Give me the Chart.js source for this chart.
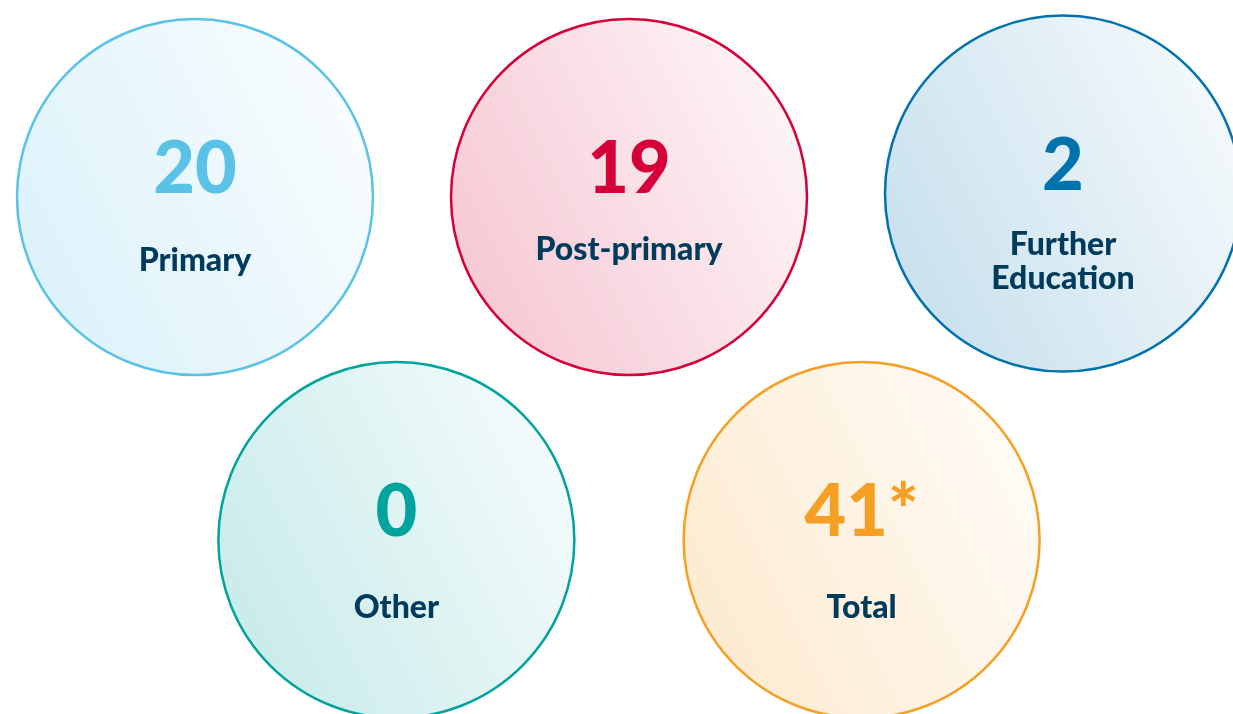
<!DOCTYPE html>
<html>
<head>
<meta charset="utf-8">
<script src="https://cdn.jsdelivr.net/npm/chart.js@4"></script>
<style>
  html, body { margin: 0; padding: 0; background: #ffffff; }
  #wrap { position: relative; width: 1233px; height: 714px; }
</style>
</head>
<body>
<div id="wrap"><canvas id="chart"></canvas></div>
<script>
// data
const categories = ['Primary', 'Post-primary', ['Further', 'Education'], 'Other', 'Total'];
const values = [20, 19, 2, 0, 41];
const notes = ['', '', '', '', '*'];

// look
const colors = ['#5bc2e7', '#d50037', '#0072ae', '#00a39d', '#f5a025'];
const labelColor = '#003b5c';
// slot for each circle: three on the top row, two below
const slotX = [-1, 0, 1, -0.536, 0.536];
const slotY = [0, 0, -0.01, 1, 1];
const labelShift = [64, 53, 51, 68, 68];

function hexAlpha(hex, a) {
    const n = parseInt(hex.slice(1), 16);
    return 'rgba(' + (n >> 16) + ',' + ((n >> 8) & 255) + ',' + (n & 255) + ',' + a + ')';
}

const R = 178;

const ctx = document.getElementById('chart');

const textPlugin = {
    id: 'circleText',
    afterDatasetsDraw(chart) {
        const c = chart.ctx;
        const meta = chart.getDatasetMeta(0);
        meta.data.forEach(function (el, i) {
            c.save();
            c.textAlign = 'center';
            c.textBaseline = 'middle';
            c.fillStyle = colors[i];
            c.font = '900 72px "Source Sans Pro", Lato, sans-serif';
            c.fillText(values[i] + notes[i], el.x, el.y - 27);

            c.fillStyle = labelColor;
            c.font = '900 32px "Source Sans Pro", Lato, sans-serif';
            let lines = categories[i];
            if (!Array.isArray(lines)) lines = [lines];
            lines.forEach(function (line, j) {
                c.fillText(line, el.x, el.y + labelShift[i] + j * 34);
            });
            c.restore();
        });
    }
};

var chart = new Chart(ctx, {
    type: 'bubble',
    data: {
        labels: categories,
        datasets: [{
            data: values.map(function (v, i) { return { x: slotX[i], y: slotY[i], value: v }; }),
            radius: R,
            borderWidth: 2.5,
            clip: false,
            borderColor: colors,
            backgroundColor: function (context) {
                const i = context.dataIndex;
                const chart = context.chart;
                const raw = context.raw;
                const fallback = hexAlpha(colors[i] || colors[0], 0.12);
                if (!raw || !chart.scales || !chart.scales.x || !chart.scales.y) return fallback;
                const x = chart.scales.x.getPixelForValue(raw.x);
                const y = chart.scales.y.getPixelForValue(raw.y);
                if (!isFinite(x) || !isFinite(y)) return fallback;
                const g = chart.ctx.createLinearGradient(x - R, y + R * 0.5, x + R, y - R * 0.5);
                g.addColorStop(0, hexAlpha(colors[i], 0.22));
                g.addColorStop(1, hexAlpha(colors[i], 0.04));
                return g;
            }
        }]
    },
    options: {
        responsive: true,
        maintainAspectRatio: false,
        animation: false,
        events: [],
        layout: { padding: 0, autoPadding: false },
        plugins: {
            legend: { display: false },
            tooltip: { enabled: false }
        },
        scales: {
            x: { type: 'linear', display: false, min: -1.4493, max: 1.3917 },
            y: { type: 'linear', display: false, reverse: true, min: -0.5743, max: 1.5073 }
        }
    },
    plugins: [textPlugin]
});
</script>
</body>
</html>
